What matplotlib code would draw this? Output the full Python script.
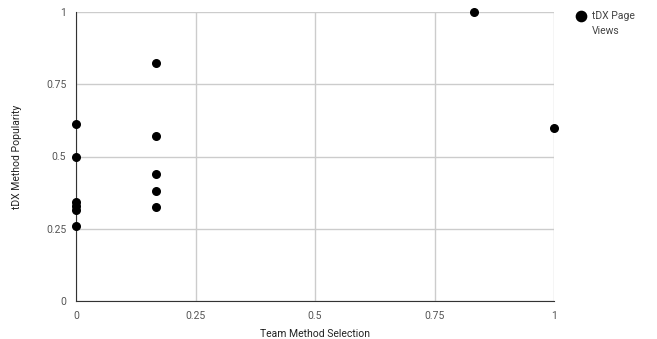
import matplotlib.pyplot as plt

plt.rcParams['font.family'] = ['Roboto', 'DejaVu Sans']

# team selection share vs page view popularity
team_selection = [0, 0, 0, 0, 0, 0,
                  1/6, 1/6, 1/6, 1/6, 1/6,
                  5/6, 1]
page_popularity = [0.612, 0.50, 0.344, 0.329, 0.315, 0.260,
                   0.824, 0.572, 0.439, 0.382, 0.324,
                   1.0, 0.599]
ticks = [0, 0.25, 0.5, 0.75, 1]
tick_labels = ['0', '0.25', '0.5', '0.75', '1']

fig = plt.figure(figsize=(6.57, 3.39), dpi=100)
ax = fig.add_axes([76/657, 38/339, 478/657, 289/339])

ax.scatter(team_selection, page_popularity, s=30, color='black',
           zorder=5, clip_on=False, label='tDX Page')

ax.set_xlim(0, 1)
ax.set_ylim(0, 1)
ax.set_xticks(ticks)
ax.set_xticklabels(tick_labels)
ax.set_yticks(ticks)
ax.set_yticklabels(tick_labels)
ax.grid(True, color='#cccccc', linewidth=1)
ax.set_axisbelow(True)

for side in ['top', 'right']:
    ax.spines[side].set_visible(False)
ax.spines['left'].set_color('#333333')
ax.spines['bottom'].set_color('#333333')
ax.tick_params(length=0, labelsize=7.5, colors='#555555', pad=7)

ax.set_xlabel('Team Method Selection', fontsize=7.5, color='#222222', labelpad=6)
ax.set_ylabel('tDX Method Popularity', fontsize=7.5, color='#222222', labelpad=17)

# legend entry; the wrapped second line sits under the first
leg = fig.legend(loc='upper left', bbox_to_anchor=(571/657, 1 - 11/339), frameon=False,
                 fontsize=7.5, labelcolor='#444444', handletextpad=0.05,
                 markerscale=1.35, borderaxespad=0, borderpad=0)
fig.text(592/657, 1 - 31/339, 'Views', fontsize=7.5, color='#444444',
         ha='left', va='center')

fig.savefig('out.png', dpi=100)
